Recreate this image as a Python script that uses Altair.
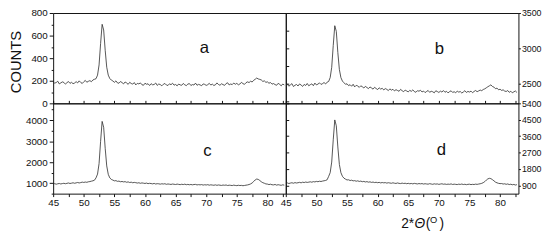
import altair as alt
import pandas as pd

FONT = "Liberation Sans"

# 2-theta sampling grid (degrees)
two_theta = [45 + 0.25 * i for i in range(152)]

counts_a = [
    188, 179, 184, 196, 172, 181, 190, 185,
    170, 183, 193, 177, 186, 174, 180, 192,
    181, 199, 185, 176, 191, 203, 187, 195,
    201, 192, 207, 213, 218, 250, 340, 530,
    700, 650, 470, 320, 250, 220, 206, 198,
    186, 199, 181, 178, 193, 184, 172, 189,
    181, 168, 186, 176, 170, 184, 163, 177,
    172, 181, 165, 160, 178, 169, 173, 158,
    174, 164, 167, 180, 159, 171, 166, 155,
    169, 176, 162, 158, 173, 165, 178, 161,
    167, 155, 171, 163, 160, 176, 164, 157,
    170, 175, 158, 166, 162, 179, 160, 168,
    163, 156, 172, 168, 159, 165, 177, 162,
    170, 158, 164, 181, 167, 160, 173, 166,
    159, 175, 182, 163, 171, 166, 180, 169,
    177, 164, 171, 186, 175, 168, 183, 190,
    184, 196, 189, 204, 213, 224, 216, 212,
    207, 194, 199, 186, 190, 178, 184, 170,
    175, 166, 160, 177, 168, 155, 171, 163,
]

counts_b = [
    2472, 2490, 2463, 2481, 2499, 2458, 2476, 2487,
    2466, 2495, 2479, 2460, 2488, 2473, 2501, 2469,
    2484, 2496, 2470, 2507, 2481, 2492, 2510, 2488,
    2499, 2515, 2494, 2520, 2530, 2585, 2730, 3040,
    3320, 3240, 2940, 2700, 2585, 2535, 2512, 2490,
    2497, 2471, 2484, 2462, 2490, 2453, 2475, 2466,
    2446, 2468, 2455, 2437, 2461, 2444, 2429, 2452,
    2438, 2421, 2447, 2430, 2415, 2440, 2422, 2433,
    2410, 2429, 2418, 2401, 2425, 2407, 2419, 2396,
    2414, 2402, 2391, 2418, 2399, 2385, 2408, 2395,
    2382, 2404, 2390, 2411, 2386, 2377, 2399, 2392,
    2405, 2381, 2394, 2372, 2388, 2402, 2376, 2391,
    2384, 2369, 2398, 2387, 2374, 2393, 2380, 2401,
    2377, 2390, 2368, 2386, 2397, 2375, 2384, 2371,
    2392, 2379, 2387, 2366, 2381, 2399, 2374, 2389,
    2380, 2393, 2371, 2388, 2402, 2385, 2396, 2408,
    2399, 2416, 2425, 2440, 2455, 2468, 2482, 2459,
    2450, 2427, 2436, 2412, 2420, 2403, 2411, 2394,
    2388, 2401, 2376, 2392, 2369, 2383, 2395, 2374,
]

counts_c = [
    958, 975, 949, 970, 984, 961, 979, 993,
    972, 990, 1008, 983, 998, 1017, 994, 1012,
    1031, 1009, 1026, 1048, 1033, 1052, 1039, 1064,
    1075, 1094, 1112, 1140, 1250, 1430, 1930, 2990,
    3940, 3660, 2660, 1820, 1420, 1250, 1178, 1145,
    1109, 1120, 1085, 1097, 1066, 1080, 1058, 1072,
    1041, 1060, 1029, 1046, 1018, 1035, 1022, 1004,
    1019, 992, 1011, 998, 984, 1003, 976, 991,
    980, 965, 987, 959, 974, 968, 951, 970,
    958, 972, 944, 961, 950, 938, 957, 946,
    935, 954, 941, 928, 947, 932, 951, 925,
    940, 922, 936, 919, 934, 941, 915, 929,
    918, 931, 907, 924, 912, 927, 903, 920,
    909, 899, 918, 896, 913, 902, 891, 910,
    898, 912, 887, 903, 895, 884, 905, 890,
    881, 899, 886, 893, 877, 889, 903, 915,
    934, 962, 1008, 1078, 1152, 1195, 1178, 1126,
    1066, 1021, 994, 962, 955, 931, 948, 923,
    917, 938, 905, 926, 911, 897, 920, 904,
]

counts_d = [
    1012, 1036, 1005, 1029, 1047, 1021, 1054, 1033,
    1048, 1069, 1041, 1077, 1058, 1086, 1065, 1080,
    1099, 1076, 1108, 1092, 1121, 1103, 1130, 1115,
    1138, 1155, 1172, 1210, 1395, 1600, 2180, 3400,
    4490, 4170, 3010, 2050, 1600, 1400, 1298, 1245,
    1199, 1210, 1168, 1187, 1150, 1163, 1131, 1152,
    1118, 1137, 1104, 1121, 1089, 1110, 1078, 1097,
    1066, 1085, 1057, 1073, 1049, 1068, 1038, 1060,
    1041, 1055, 1027, 1049, 1033, 1018, 1044, 1022,
    1009, 1036, 1013, 1002, 1028, 1006, 1019, 994,
    1016, 991, 1008, 985, 1012, 996, 981, 1003,
    987, 1001, 975, 993, 980, 969, 997, 978,
    962, 988, 971, 983, 958, 976, 990, 965,
    979, 956, 972, 961, 984, 952, 970, 958,
    947, 969, 955, 976, 950, 964, 941, 960,
    968, 945, 959, 950, 971, 957, 975, 992,
    1013, 1052, 1108, 1192, 1258, 1290, 1272, 1218,
    1152, 1082, 1043, 1015, 999, 1004, 976, 990,
    962, 981, 947, 966, 936, 955, 921, 943,
]

x_domain = [45, 83]
x_ticks = [45, 47.5, 50, 52.5, 55, 57.5, 60, 62.5, 65, 67.5, 70, 72.5, 75, 77.5, 80, 82.5]

ticks_a = [0, 100, 200, 300, 400, 500, 600, 700, 800]
ticks_b_left = [2250, 2500, 2750, 3000, 3250, 3500]
labels_b = [2500, 3000, 3500]
ticks_c = [500, 1000, 1500, 2000, 2500, 3000, 3500, 4000, 4500]
ticks_d = [900, 1800, 2700, 3600, 4500, 5400]

W, H = 237, 92


def x_axis(bottom_labels):
    if bottom_labels:
        return alt.Axis(values=x_ticks, labelExpr="datum.value % 5 === 0 ? datum.label : ''",
                        tickSize=3, labelFontSize=10, labelFont=FONT, labelPadding=1,
                        labelColor="#111", tickColor="#111", domain=False, grid=False,
                        title=None, labelOverlap=False, labelFlush=False)
    return alt.Axis(values=x_ticks, labels=False, tickSize=alt.ExprRef("-3"),
                    tickColor="#111", domain=False, grid=False, title=None)


def left_label_axis(vals, step):
    return alt.Axis(orient="left", values=vals, format="d",
                    labelExpr=f"datum.value % {step} === 0 ? datum.label : ''",
                    tickSize=alt.ExprRef(f"datum.value % {step} === 0 ? 4 : 2"),
                    labelFontSize=10, labelFont=FONT, labelPadding=2, labelColor="#111",
                    tickColor="#111", domain=False, grid=False, title=None, labelOverlap=False)


def left_tick_axis(vals):
    return alt.Axis(orient="left", values=vals, labels=False, tickSize=alt.ExprRef("-3"),
                    tickColor="#111", domain=False, grid=False, title=None)


def right_label_axis(vals):
    return alt.Axis(orient="right", values=vals, format="d", tickSize=2,
                    labelFontSize=9, labelFont=FONT, labelPadding=1, labelColor="#111",
                    tickColor="#111", domain=False, grid=False, title=None, labelOverlap=False)


def panel(counts, ydom, name, lx, ly, main_y_axis, ghost_y_axis, bottom_labels, extra=()):
    df = pd.DataFrame({"t": two_theta, "c": counts})
    xs = alt.Scale(domain=x_domain, nice=False, zero=False)
    ys = alt.Scale(domain=ydom, nice=False, zero=False)
    xax = x_axis(bottom_labels)
    line = alt.Chart(df).mark_line(color="#2a2a2a", strokeWidth=0.8, clip=True).encode(
        x=alt.X("t:Q", scale=xs, axis=xax),
        y=alt.Y("c:Q", scale=ys, axis=main_y_axis),
    )
    ghost = alt.Chart(df).mark_line(opacity=0).encode(
        x=alt.X("t:Q", scale=xs, axis=xax),
        y=alt.Y("c:Q", scale=ys, axis=ghost_y_axis),
    )
    lab = alt.Chart(pd.DataFrame({"t": [lx], "c": [ly], "s": [name]})).mark_text(
        font=FONT, fontSize=17, color="#111", baseline="alphabetic", align="center"
    ).encode(
        x=alt.X("t:Q", scale=xs, axis=xax),
        y=alt.Y("c:Q", scale=ys, axis=None),
        text="s:N",
    )
    return alt.layer(line, ghost, lab, *extra).resolve_axis(y="independent").properties(width=W, height=H)


counts_title = alt.Chart(pd.DataFrame({"s": ["COUNTS"]})).mark_text(
    font=FONT, fontSize=15, angle=270, color="#111", baseline="middle", align="center"
).encode(x=alt.value(-38), y=alt.value(50), text="s:N")

title_parts = [
    ("2*", 117.5, 127, 14, "normal"),
    ("Θ", 131.0, 127, 14, "italic"),
    ("(", 142.5, 127, 14, "normal"),
    ("O", 147.0, 121.5, 9.5, "normal"),
    (")", 156.5, 127, 14, "normal"),
]
title_layers = []
for txt, px, py, fs, st in title_parts:
    title_layers.append(
        alt.Chart(pd.DataFrame({"s": [txt]})).mark_text(
            font=FONT, fontSize=fs, fontStyle=st, color="#111", align="left", baseline="alphabetic"
        ).encode(x=alt.value(px), y=alt.value(py), text="s:N")
    )

pa = panel(counts_a, [0, 800], "a", 69.7, 446, left_label_axis(ticks_a, 200), None, False, [counts_title])
pb = panel(counts_b, [2220, 3500], "b", 70.1, 2917, right_label_axis(labels_b), left_tick_axis(ticks_b_left), False)
pc = panel(counts_c, [500, 4800], "c", 70.2, 2286, left_label_axis(ticks_c, 1000), None, True)
pd_ = panel(counts_d, [450, 5400], "d", 70.4, 2593, right_label_axis(ticks_d), left_tick_axis(ticks_d), True, title_layers)

chart = alt.concat(pa, pb, pc, pd_, columns=2, spacing=0, bounds="flush").properties(
    padding={"left": 0, "top": -3, "right": 0, "bottom": 0}
).configure_view(stroke="#111", strokeWidth=1)

chart.save("out.html", embed_options={"renderer": "svg", "actions": False})
